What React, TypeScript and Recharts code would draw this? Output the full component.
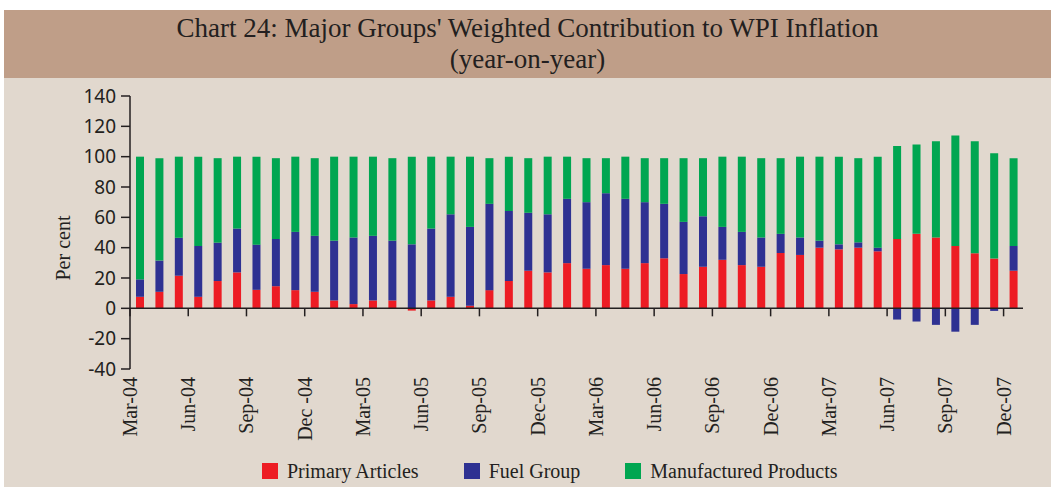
import { BarChart, Bar, XAxis, YAxis, ReferenceLine } from "recharts";

const months = [
  "Mar-04", "Apr-04", "May-04", "Jun-04", "Jul-04", "Aug-04", "Sep-04", "Oct-04", "Nov-04", "Dec -04",
  "Jan-05", "Feb-05", "Mar-05", "Apr-05", "May-05", "Jun-05", "Jul-05", "Aug-05", "Sep-05", "Oct-05",
  "Nov-05", "Dec-05", "Jan-06", "Feb-06", "Mar-06", "Apr-06", "May-06", "Jun-06", "Jul-06", "Aug-06",
  "Sep-06", "Oct-06", "Nov-06", "Dec-06", "Jan-07", "Feb-07", "Mar-07", "Apr-07", "May-07", "Jun-07",
  "Jul-07", "Aug-07", "Sep-07", "Oct-07", "Nov-07", "Dec-07",
];

const primary = [
  7.6, 10.9, 21.5, 7.6, 18.0, 23.7, 12.2, 14.6, 12.0, 10.9,
  5.2, 2.8, 5.2, 5.2, -1.5, 5.2, 7.6, 1.7, 12.0, 18.0,
  24.8, 23.7, 29.8, 26.1, 28.5, 26.1, 29.8, 33.0, 22.6, 27.4,
  32.0, 28.5, 27.4, 36.5, 35.2, 40.0, 38.9, 40.0, 37.6, 45.7,
  49.1, 46.7, 41.1, 36.3, 32.8, 24.8,
];

const fuel = [
  11.5, 20.6, 25.0, 33.5, 25.3, 28.9, 29.8, 31.1, 38.4, 36.9,
  39.4, 43.9, 42.6, 39.4, 42.2, 47.4, 54.4, 52.0, 56.9, 46.1,
  38.2, 38.3, 42.4, 43.9, 47.4, 46.1, 40.2, 35.9, 34.4, 33.3,
  21.7, 21.9, 19.3, 12.6, 11.5, 4.6, 3.3, 3.5, 2.4, -7.4,
  -8.7, -10.9, -15.4, -10.9, -1.7, 16.3,
];

const manufactured = [
  80.9, 67.5, 53.5, 58.9, 55.7, 47.4, 58.0, 53.3, 49.6, 51.2,
  55.4, 53.3, 52.2, 54.4, 57.8, 47.4, 38.0, 46.3, 30.1, 35.9,
  36.0, 38.0, 27.8, 29.0, 23.1, 27.8, 29.0, 30.1, 42.0, 38.3,
  46.3, 49.6, 52.3, 49.9, 53.3, 55.4, 57.8, 55.5, 60.0, 61.3,
  58.9, 63.5, 72.8, 73.9, 69.4, 57.9,
];

const yTicks = [-40, -20, 0, 20, 40, 60, 80, 100, 120, 140];

const series = [
  { key: "primary", name: "Primary Articles", color: "#ed1c24" },
  { key: "fuel", name: "Fuel Group", color: "#2e3192" },
  { key: "manufactured", name: "Manufactured Products", color: "#00a651" },
];

const data = months.map((month, i) => ({
  month,
  primary: primary[i],
  fuel: fuel[i],
  manufactured: manufactured[i],
}));

const W = 1055;
const H = 487;
const PLOT_LEFT = 130;
const PLOT_RIGHT = 1023;
const PLOT_TOP = 96;
const PLOT_BOTTOM = 369;
const Y_AXIS_W = 60;
const X_AXIS_H = 80;
const BAND = (PLOT_RIGHT - PLOT_LEFT) / months.length;
const ZERO_Y = PLOT_TOP + (PLOT_BOTTOM - PLOT_TOP) * (140 / 180);

const INK = "#231f20";
const SERIF = "'Liberation Serif', 'Times New Roman', serif";

function XTick(props: any) {
  const { x, payload } = props;
  const left = x - BAND / 2;
  const ty = 377;
  return (
    <g>
      <line x1={left} x2={left} y1={ZERO_Y} y2={ZERO_Y + 8} stroke={INK} strokeWidth={1.5} />
      <text
        x={left + 7}
        y={ty}
        transform={`rotate(-90, ${left + 7}, ${ty})`}
        textAnchor="end"
        fontFamily={SERIF}
        fontSize={20}
        fill={INK}
      >
        {payload.value}
      </text>
    </g>
  );
}

export default function App() {
  return (
    <div style={{ position: "absolute", left: 0, top: 0, width: W, height: H, background: "#fff" }}>
      <div
        style={{
          position: "absolute",
          left: 4,
          top: 10,
          width: W - 8,
          height: 68,
          background: "#bf9e88",
          color: INK,
          fontFamily: SERIF,
          fontSize: 27,
          textAlign: "center",
          lineHeight: "31px",
          paddingTop: 3,
          boxSizing: "border-box",
        }}
      >
        <div>Chart 24: Major Groups' Weighted Contribution to WPI Inflation</div>
        <div>(year-on-year)</div>
      </div>
      <div
        style={{
          position: "absolute",
          left: 4,
          top: 78,
          width: W - 8,
          height: H - 78,
          background: "#e1d8ce",
        }}
      />
      <div style={{ position: "absolute", left: 0, top: 0 }}>
        <BarChart
          width={W}
          height={H}
          data={data}
          stackOffset="sign"
          margin={{
            top: PLOT_TOP,
            right: W - PLOT_RIGHT,
            left: PLOT_LEFT - Y_AXIS_W,
            bottom: H - PLOT_BOTTOM - X_AXIS_H,
          }}
        >
          <XAxis
            dataKey="month"
            interval={2}
            height={X_AXIS_H}
            axisLine={false}
            tickLine={false}
            tick={(p: any) => <XTick {...p} />}
          />
          <YAxis
            width={Y_AXIS_W}
            domain={[-40, 140]}
            ticks={yTicks}
            interval={0}
            tickSize={9}
            tickMargin={5}
            axisLine={{ stroke: INK, strokeWidth: 1.5 }}
            tickLine={{ stroke: INK, strokeWidth: 1.5 }}
            tick={{ fill: INK, fontSize: 19, fontFamily: "'Noto Sans', sans-serif" }}
            label={{
              content: () => (
                <text
                  x={70}
                  y={248}
                  transform="rotate(-90, 70, 248)"
                  textAnchor="middle"
                  fontFamily={SERIF}
                  fontSize={20}
                  fill={INK}
                >
                  Per cent
                </text>
              ),
            }}
          />
          {series.map((s) => (
            <Bar
              key={s.key}
              dataKey={s.key}
              name={s.name}
              stackId="a"
              fill={s.color}
              barSize={8}
              isAnimationActive={false}
            />
          ))}
          <ReferenceLine y={0} stroke={INK} strokeWidth={1.5} />
        </BarChart>
      </div>
      <div
        style={{
          position: "absolute",
          left: 262,
          top: 459,
          display: "flex",
          alignItems: "center",
          gap: 45,
          fontFamily: SERIF,
          fontSize: 20,
          color: INK,
          lineHeight: "24px",
        }}
      >
        {series.map((s) => (
          <div key={s.key} style={{ display: "flex", alignItems: "center" }}>
            <span style={{ width: 16, height: 16, background: s.color, marginRight: 9 }} />
            <span>{s.name}</span>
          </div>
        ))}
      </div>
    </div>
  );
}
